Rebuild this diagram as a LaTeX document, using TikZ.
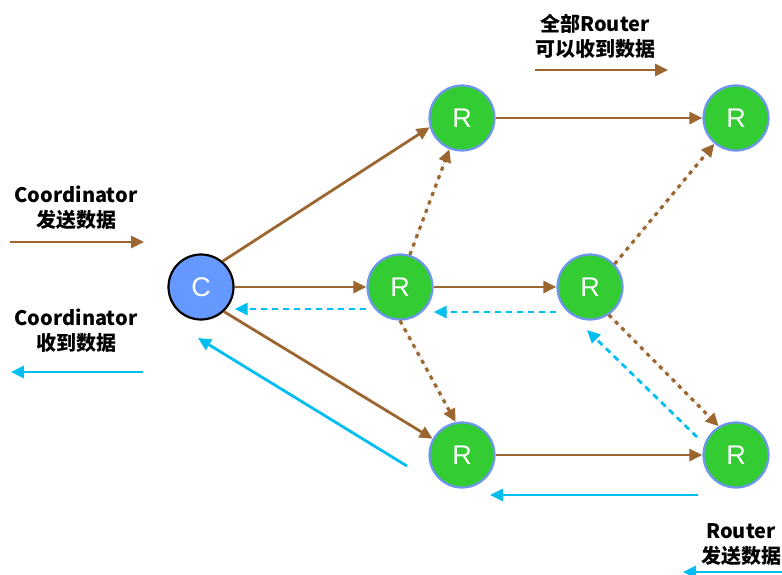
\documentclass[tikz,border=0pt]{standalone}
\usepackage{fontspec}
\newfontfamily\cjk{Noto Sans CJK SC}
\newfontfamily\arialf{Liberation Sans}
\usetikzlibrary{arrows.meta,calc}
\definecolor{brn}{RGB}{156,102,49}
\definecolor{cyn}{RGB}{0,190,240}
\definecolor{grn}{RGB}{51,204,51}
\definecolor{cblue}{RGB}{102,153,255}
\definecolor{rborder}{RGB}{110,150,240}
\tikzset{
  rnode/.style={circle,fill=grn,draw=rborder,line width=2.2pt,minimum size=65pt,inner sep=0pt,
    text=white,font=\arialf\fontsize{27}{27}\selectfont},
  cnode/.style={circle,fill=cblue,draw=black,line width=2.2pt,minimum size=65pt,inner sep=0pt,
    text=white,font=\arialf\fontsize{27}{27}\selectfont},
  brownarrow/.style={draw=brn,line width=2.8pt,-{Triangle[length=13pt,width=12pt]},fill=brn},
  browndot/.style={draw=brn,line width=3.2pt,dash pattern=on 4pt off 5pt,-{Triangle[length=13pt,width=12pt]},fill=brn},
  cyandash/.style={draw=cyn,line width=2.8pt,dash pattern=on 6pt off 5pt,-{Triangle[length=13pt,width=12pt]},fill=cyn},
  cyanarrow/.style={draw=cyn,line width=2.8pt,-{Triangle[length=13pt,width=12pt]},fill=cyn},
  lbl/.style={align=center,font=\cjk\bfseries\fontsize{20}{25}\selectfont,text=black,inner sep=0pt}
}
\begin{document}
\begin{tikzpicture}[x=1pt,y=-1pt]
\useasboundingbox (0,0) rectangle (782,574);
% nodes
\node[cnode] (C) at (201,287) {C};
\node[rnode] (R1) at (462,118) {R};
\node[rnode] (R2) at (736,118) {R};
\node[rnode] (R3) at (400,287) {R};
\node[rnode] (R4) at (590,287) {R};
\node[rnode] (R5) at (462,455) {R};
\node[rnode] (R6) at (736,455) {R};
% solid brown
\draw[brownarrow] (C.50) -- (R1.196);
\draw[brownarrow] (C) -- (R3);
\draw[brownarrow] (C.-47) -- (R5.151);
\draw[brownarrow] (R1) -- (R2);
\draw[brownarrow] (R3) -- (R4);
\draw[brownarrow] (R5) -- (R6);
% dotted brown
\draw[browndot] (R3.73) -- (R1.248);
\draw[browndot] (R3.-90) -- (R5.101);
\draw[browndot] (R4.43) -- (R2.230);
\draw[browndot] (R4.-56) -- (R6.121);
% cyan dashed
\draw[cyandash] ($(R3.west)+(0,22)$) -- ($(C.east)+(0,22)$);
\draw[cyandash] ($(R4.west)+(0,25)$) -- ($(R3.east)+(0,25)$);
\draw[cyandash] ($(R6.center)+(-39,-18)$) -- ($(R4.center)+(-3,43)$);
% cyan solid
\coordinate (s1) at (407,466);
\coordinate (t1) at (198,338);
\draw[cyanarrow] (s1) -- (t1);
\coordinate (s2) at (698,495);
\coordinate (t2) at (490,495);
\draw[cyanarrow] (s2) -- (t2);
% legends
\node[lbl] (L1) at (76,208) {Coordinator\\发送数据};
\coordinate (a1s) at (10,242);
\coordinate (a1t) at (144,242);
\draw[brownarrow] (a1s) -- (a1t);
\node[lbl] (L2) at (76,331) {Coordinator\\收到数据};
\coordinate (a2s) at (143,372);
\coordinate (a2t) at (11,372);
\draw[cyanarrow] (a2s) -- (a2t);
\node[lbl] (L3) at (595,36) {全部Router\\可以收到数据};
\coordinate (a3s) at (535,70);
\coordinate (a3t) at (668,70);
\draw[brownarrow] (a3s) -- (a3t);
\node[lbl] (L4) at (741,545) {Router\\发送数据};
\coordinate (a4s) at (790,572);
\coordinate (a4t) at (683,572);
\draw[cyanarrow] (a4s) -- (a4t);
\end{tikzpicture}
\end{document}
